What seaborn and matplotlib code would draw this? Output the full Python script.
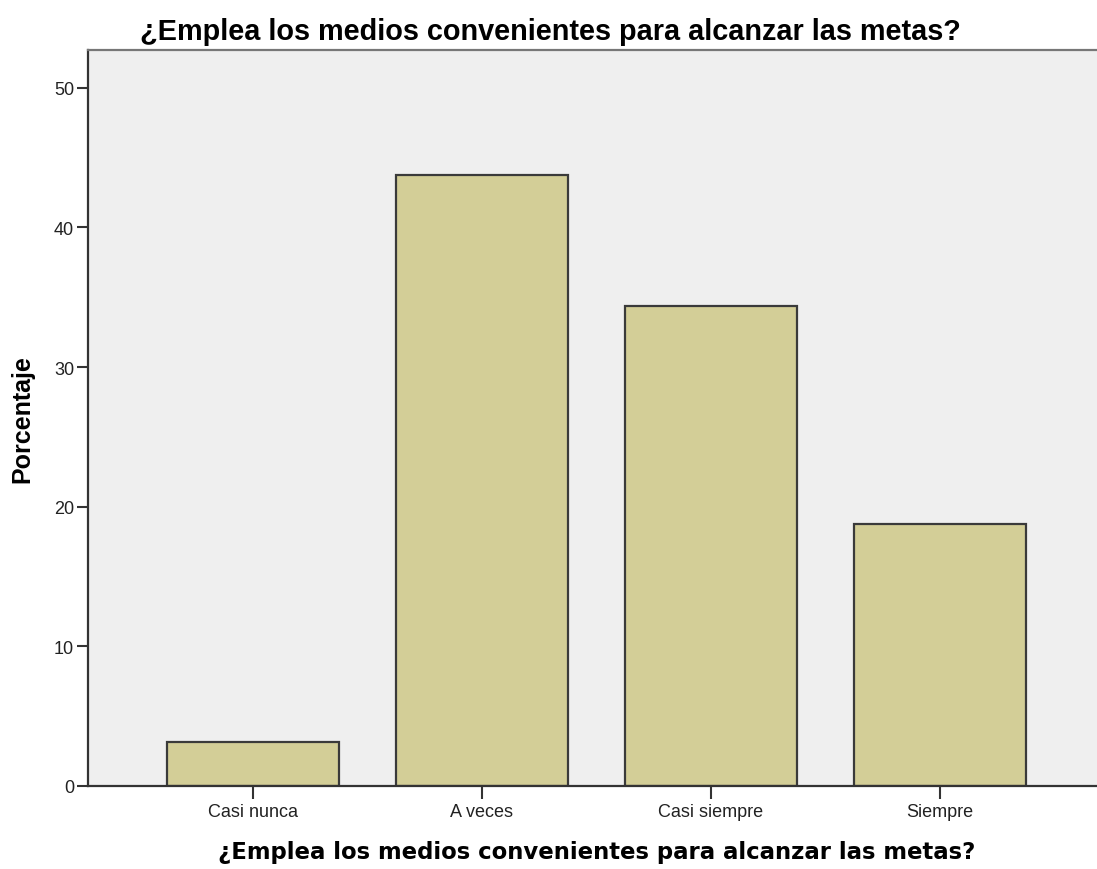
"""SPSS-style bar chart: percentage per response category."""

import matplotlib

matplotlib.use("Agg")

import matplotlib.pyplot as plt  # noqa: E402
import pandas as pd  # noqa: E402
import seaborn as sns  # noqa: E402

QUESTION = "¿Emplea los medios convenientes para alcanzar las metas?"
categories = ["Casi nunca", "A veces", "Casi siempre", "Siempre"]
percentages = [3.125, 43.75, 34.375, 18.75]
y_ticks = [0, 10, 20, 30, 40, 50]

sns.set_theme(style="white")
plt.rcParams["font.family"] = ["Liberation Sans", "DejaVu Sans"]

df = pd.DataFrame({"cat": categories, "pct": percentages})

fig = plt.figure(figsize=(10.97, 8.70), dpi=100)
ax = fig.add_axes([88 / 1097, 1 - 787 / 870, 1017 / 1097, 736 / 870])
ax.set_facecolor("#efefef")

sns.barplot(data=df, x="cat", y="pct", ax=ax, color="#d3ce97", saturation=1,
            width=0.75, edgecolor="#3a3a3a", linewidth=1.6)

ax.set_xlim(-0.72, 3.72)
ax.set_ylim(0, 52.7)
ax.set_yticks(y_ticks)
ax.tick_params(axis="y", direction="out", length=8, width=1.5, color="#333333",
               labelsize=13, pad=2, left=True)
ax.tick_params(axis="x", direction="out", length=9, width=1.5, color="#333333",
               labelsize=13, pad=3, bottom=True)
for lab in ax.get_xticklabels() + ax.get_yticklabels():
    lab.set_color("#222222")

for side in ["left", "bottom", "top"]:
    ax.spines[side].set_visible(True)
    ax.spines[side].set_color("#333333")
    ax.spines[side].set_linewidth(1.6)
ax.spines["top"].set_color("#777777")
ax.spines["right"].set_visible(False)

ax.set_xlabel(QUESTION, fontsize=16.4, fontweight="bold", family="DejaVu Sans",
              labelpad=15, color="black")
ax.set_ylabel("Porcentaje", fontsize=18, fontweight="bold", labelpad=14,
              color="black")
fig.text(550 / 1097, 1 - 32 / 870, QUESTION, ha="center", va="center",
         fontsize=20.8, fontweight="bold", color="black")

fig.savefig("out.png", dpi=100, facecolor="white")
